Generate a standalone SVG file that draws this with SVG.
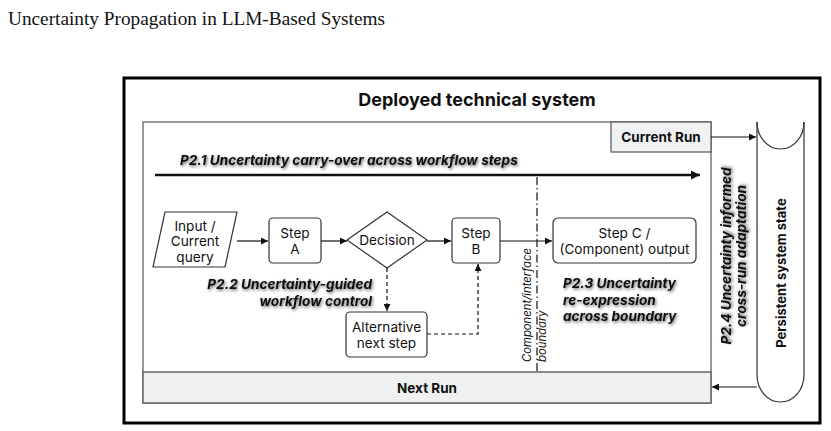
<svg xmlns="http://www.w3.org/2000/svg" width="831" height="431" viewBox="0 0 831 431">
<style>
.cap{font-family:"Liberation Serif","Times New Roman",serif;font-size:19.3px;fill:#111}
.t{font-family:Inter,"Liberation Sans",sans-serif;fill:#111}
.node{font-size:13.6px;text-anchor:middle}
.b{font-weight:700}
.p{font-family:Inter,"Liberation Sans",sans-serif;font-size:13.6px;font-weight:700;font-style:italic;fill:#111;filter:url(#sh)}
.box{fill:#fff;stroke:#333;stroke-width:1.2}
.ln{fill:none;stroke:#111;stroke-width:1.2}
.dash{fill:none;stroke:#111;stroke-width:1.2;stroke-dasharray:4 3}
</style>
<defs>
<filter id="sh" x="-10%" y="-40%" width="125%" height="190%">
<feDropShadow dx="1" dy="1.5" stdDeviation="1.6" flood-color="#000" flood-opacity="0.6"/>
</filter>
<marker id="ar" viewBox="0 0 10 10" refX="10" refY="5" markerWidth="10" markerHeight="7" markerUnits="userSpaceOnUse" orient="auto">
<path d="M0,0 L10,5 L0,10 z" fill="#111"/>
</marker>
<marker id="big" viewBox="0 0 10 10" refX="10" refY="5" markerWidth="15" markerHeight="9" markerUnits="userSpaceOnUse" orient="auto">
<path d="M0,0 L10,5 L0,10 z" fill="#111"/>
</marker>
</defs>
<rect width="831" height="431" fill="#fff"/>
<text class="cap" x="8" y="25">Uncertainty Propagation in LLM-Based Systems</text>

<g id="outer">
<rect x="124" y="78" width="696" height="345" fill="none" stroke="#000" stroke-width="3"/>
<text class="t b" x="477" y="106" font-size="18" text-anchor="middle">Deployed technical system</text>
</g>

<g id="inner">
<rect x="143" y="122" width="568" height="281" fill="#fff" stroke="#777" stroke-width="1.5"/>
</g>

<g id="current-run">
<rect x="611" y="122" width="100" height="30" fill="#f0f1f3" stroke="#555" stroke-width="1.2"/>
<text class="t b" x="661" y="142" font-size="13.5" text-anchor="middle">Current Run</text>
</g>

<g id="next-run">
<rect x="143" y="372" width="568" height="31" fill="#eff0f2" stroke="#666" stroke-width="1.5"/>
<text class="t b" x="427" y="392.5" font-size="13.5" text-anchor="middle">Next Run</text>
</g>

<g id="persistent-state">
<path d="M757,122 L757,375 A23.5,27 0 0 0 804,375 L804,122" fill="#fff" stroke="#333" stroke-width="1.2"/>
<path d="M757,122 A23.5,27 0 0 0 804,122" fill="none" stroke="#333" stroke-width="1.2"/>
<text class="t b" transform="translate(786,273) rotate(-90)" font-size="13" text-anchor="middle">Persistent system state</text>
</g>

<g id="input">
<polygon points="165,212 237,212 225,267 153,267" class="box" stroke-linejoin="round"/>
<text class="t node" x="195" y="230.5">Input /</text>
<text class="t node" x="195" y="246">Current</text>
<text class="t node" x="195" y="262">query</text>
</g>

<g id="step-a">
<rect x="269" y="218" width="52" height="45" rx="4" class="box"/>
<text class="t node" x="295" y="237.5">Step</text>
<text class="t node" x="295" y="254">A</text>
</g>

<g id="decision">
<polygon points="347,240 387,212 427,240 387,268" class="box"/>
<text class="t node" x="387" y="245">Decision</text>
</g>

<g id="step-b">
<rect x="452" y="218" width="48" height="45" rx="4" class="box"/>
<text class="t node" x="476" y="237.5">Step</text>
<text class="t node" x="476" y="254">B</text>
</g>

<g id="step-c">
<rect x="553" y="218" width="143" height="45" rx="5" class="box"/>
<text class="t node" x="624.5" y="237.5">Step C /</text>
<text class="t node" x="624.5" y="254">(Component) output</text>
</g>

<g id="alternative">
<rect x="346" y="312" width="81" height="45" rx="4" class="box"/>
<text class="t node" x="386.5" y="331.5">Alternative</text>
<text class="t node" x="386.5" y="348">next step</text>
</g>

<g id="connectors">
<line x1="155" y1="175" x2="700" y2="175" stroke="#111" stroke-width="2.5" marker-end="url(#big)"/>
<line x1="237" y1="241" x2="268" y2="241" class="ln" marker-end="url(#ar)"/>
<line x1="321" y1="241" x2="347" y2="241" class="ln" marker-end="url(#ar)"/>
<line x1="427" y1="241" x2="451" y2="241" class="ln" marker-end="url(#ar)"/>
<line x1="500" y1="241" x2="552" y2="241" class="ln" marker-end="url(#ar)"/>
<line x1="387" y1="268" x2="387" y2="311" class="dash" marker-end="url(#ar)"/>
<path d="M427,334 L478,334 L478,264" class="dash" marker-end="url(#ar)"/>
<line x1="711" y1="137" x2="756" y2="137" class="ln" marker-end="url(#ar)"/>
<line x1="757" y1="387" x2="712" y2="387" class="ln" marker-end="url(#ar)"/>
<line x1="537" y1="177" x2="537" y2="372" stroke="#111" stroke-width="1.2" stroke-dasharray="8 3 1.5 3"/>
</g>

<g id="labels">
<text class="p" x="180" y="165">P2.1 Uncertainty carry-over across workflow steps</text>
<text class="p" x="372" y="289" text-anchor="end">P2.2 Uncertainty-guided</text>
<text class="p" x="372" y="306" text-anchor="end">workflow control</text>
<text class="p" x="563" y="288">P2.3 Uncertainty</text>
<text class="p" x="563" y="304.5">re-expression</text>
<text class="p" x="563" y="321">across boundary</text>
<text class="p" transform="translate(731,256) rotate(-90)" text-anchor="middle">P2.4 Uncertainty informed</text>
<text class="p" transform="translate(746,256) rotate(-90)" text-anchor="middle">cross-run adaptation</text>
<text class="t" transform="translate(531,362) rotate(-90)" font-size="11.3" font-style="italic">Component/interface</text>
<text class="t" transform="translate(546,362) rotate(-90)" font-size="11.3" font-style="italic">boundary</text>
</g>
</svg>
